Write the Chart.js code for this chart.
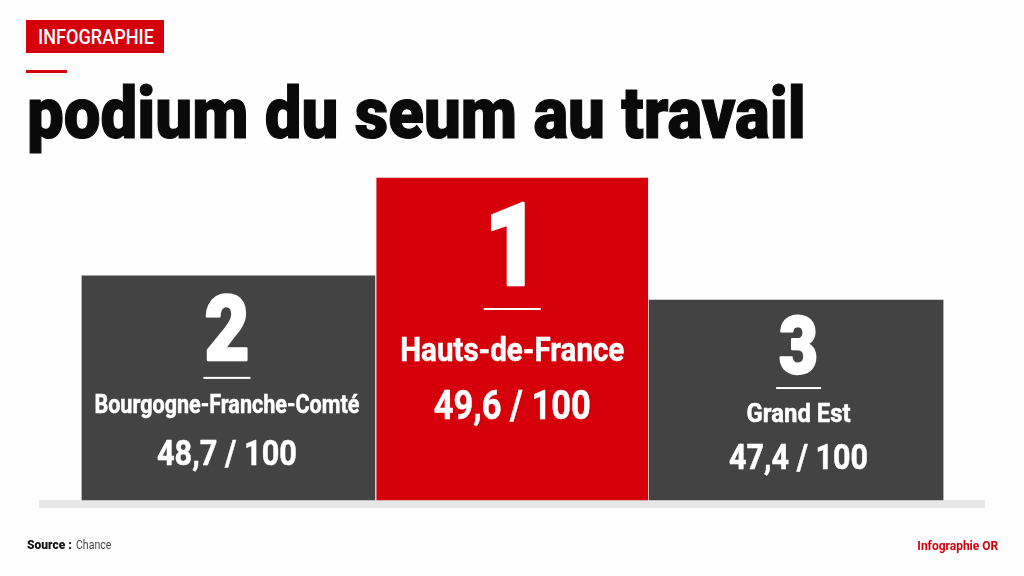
<!DOCTYPE html>
<html lang="fr">
<head>
<meta charset="utf-8">
<title>podium du seum au travail</title>
<script src="https://cdn.jsdelivr.net/npm/chart.js@4/dist/chart.umd.min.js"></script>
<style>
  html, body { margin: 0; padding: 0; background: #fefefe; }
  #page { position: relative; width: 1024px; height: 576px; overflow: hidden; font-family: Roboto, sans-serif; }
  #page > * { position: absolute; }
  #resultChart { left: 0; top: 0; }
  .badge { left: 26px; top: 20px; width: 138px; height: 33px; background: #d5000a; }
  .badge span { position: absolute; left: 12px; top: 5px; color: #fff; font-size: 20px; font-weight: 500; line-height: 24px; transform: scaleX(0.905); transform-origin: left; white-space: nowrap; }
  .dash { left: 26px; top: 70px; width: 41px; height: 3px; background: #d5000a; }
  h1 { margin: 0; left: 27px; top: 71px; color: #0a0a0a; font-size: 72px; font-weight: 900; line-height: 86px; white-space: nowrap; transform-origin: left; transform: scaleX(0.908); -webkit-text-stroke: 1.2px #0a0a0a; }
  .ground { left: 39px; top: 500px; width: 946px; height: 8px; background: #e8e8e8; }
  .source { left: 27px; top: 538px; font-size: 12px; line-height: 15px; color: #444; white-space: nowrap; }
  .source b { color: #111; font-weight: 900; }
  .source span { display: inline-block; transform: scaleX(0.88); transform-origin: left; margin-left: 1px; }
  .credit { right: 26px; top: 538px; font-size: 12.5px; font-weight: 700; line-height: 15px; color: #d5000a; white-space: nowrap; transform: scaleX(0.96); transform-origin: right; }
</style>
</head>
<body>
<div id="page">
  <div class="ground"></div>
  <canvas id="resultChart" width="1024" height="576"></canvas>
  <div class="badge"><span>INFOGRAPHIE</span></div>
  <div class="dash"></div>
  <h1 id="headline"></h1>
  <div class="source"><b>Source :</b> <span>Chance</span></div>
  <div class="credit">Infographie OR</div>
</div>
<script>
const headline = "podium du seum au travail";

const regions = ["Bourgogne-Franche-Comté", "Hauts-de-France", "Grand Est"];
const ranks = [2, 1, 3];
const scores = [48.7, 49.6, 47.4];
// the steps are not to scale with the scores, heights read off the picture (tallest = 100)
const podiumHeights = [69.6, 100, 62.1];

const barColors = ["#434343", "#d5000a", "#434343"];
const barWidths = [293, 271, 294];

// text sizes per step: rank, name, score (px), and offsets below the top of the step
const textShift = [-1.5, 0, 2.5];
const rankFont = [91, 115, 80];
const rankWidth = [45, 56, 39];
const nameFont = [26, 33, 26];
const scoreFont = [35, 40, 35];
const rankBase = [84, 107, 73];
const ruleY = [101, 130, 87];
const ruleWidth = [47, 57, 45];
const nameBase = [137, 183, 122];
const nameWidth = [265, 224, 104];
const scoreBase = [189, 241, 169];
const scoreWidth = [140, 157, 139];

document.getElementById("headline").textContent = headline;

const formatScore = v => v.toFixed(1).replace(".", ",") + " / 100";

const podiumLabels = {
  id: "podiumLabels",
  afterDatasetsDraw(chart) {
    const ctx = chart.ctx;
    const heavyText = (text, x, y, w, stroke) => {
      ctx.lineWidth = stroke;
      ctx.strokeText(text, x, y, w);
      ctx.fillText(text, x, y, w);
    };
    ctx.save();
    ctx.textAlign = "center";
    ctx.textBaseline = "alphabetic";
    ctx.lineJoin = "round";
    ctx.fillStyle = "#ffffff";
    ctx.strokeStyle = "#ffffff";
    regions.forEach((name, i) => {
      const bar = chart.getDatasetMeta(i).data[i];
      const x = bar.x + textShift[i];
      const top = bar.y;
      ctx.font = "900 " + rankFont[i] + "px Roboto";
      heavyText(String(ranks[i]), x, top + rankBase[i], rankWidth[i], 2.5);
      ctx.fillRect(x - ruleWidth[i] / 2, top + ruleY[i], ruleWidth[i], 2);
      ctx.font = "700 " + nameFont[i] + "px Roboto";
      heavyText(name, x, top + nameBase[i], nameWidth[i], 0.5);
      ctx.font = "700 " + scoreFont[i] + "px Roboto";
      heavyText(formatScore(scores[i]), x, top + scoreBase[i], scoreWidth[i], 0.5);
    });
    ctx.restore();
  }
};

new Chart(document.getElementById("resultChart").getContext("2d"), {
  type: "bar",
  data: {
    labels: regions,
    datasets: regions.map((name, i) => ({
      label: name,
      data: regions.map((_, j) => (j === i ? podiumHeights[i] : null)),
      backgroundColor: barColors[i],
      barThickness: barWidths[i],
      grouped: false,
      clip: false
    }))
  },
  options: {
    responsive: false,
    animation: false,
    layout: { padding: { left: 86.5, right: 86, top: 178, bottom: 76 } },
    plugins: {
      legend: { display: false },
      tooltip: { enabled: false }
    },
    scales: {
      x: { display: false },
      y: { display: false, min: 0, max: 100 }
    }
  },
  plugins: [podiumLabels]
});
</script>
</body>
</html>
